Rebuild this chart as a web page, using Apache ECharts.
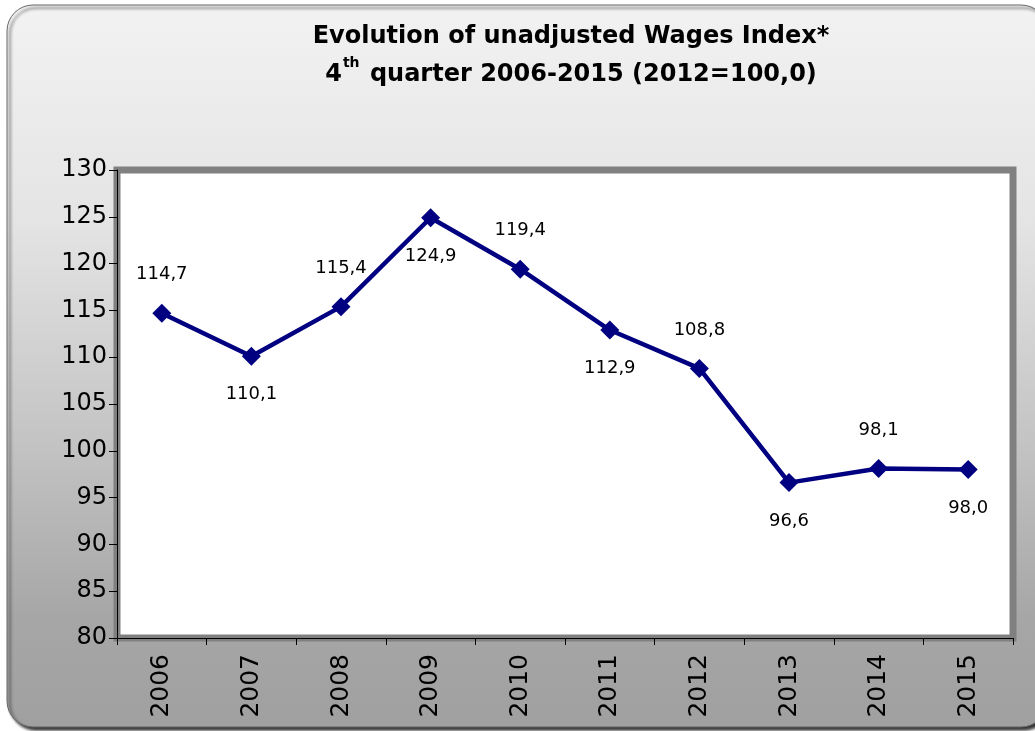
<!DOCTYPE html>
<html>
<head>
<meta charset="utf-8">
<script src="https://cdn.jsdelivr.net/npm/echarts@6/dist/echarts.min.js"></script>
<style>
  html, body { margin: 0; padding: 0; background: #ffffff; }
  #chart { width: 1035px; height: 731px; }
</style>
</head>
<body>
<div id="chart"></div>
<script>
  // data
  const years = ['2006', '2007', '2008', '2009', '2010', '2011', '2012', '2013', '2014', '2015'];
  const wageIndex = [114.7, 110.1, 115.4, 124.9, 119.4, 112.9, 108.8, 96.6, 98.1, 98.0];
  const labelSide = ['top', 'bottom', 'top', 'bottom', 'top', 'bottom', 'top', 'bottom', 'top', 'bottom'];

  const chart = echarts.init(document.getElementById('chart'));
  const font = '"DejaVu Sans", "Liberation Sans", Arial, sans-serif';

  const seriesData = wageIndex.map(function (v, i) {
    return {
      value: v,
      label: {position: labelSide[i]}
    };
  });

  chart.setOption({
    animation: false,
    graphic: [
      {
        type: 'rect',
        z: -10,
        silent: true,
        shape: {x: 7, y: 5, width: 1040, height: 722, r: 26},
        style: {
          fill: new echarts.graphic.LinearGradient(0, 0, 0, 1, [
            {offset: 0, color: '#f2f2f2'},
            {offset: 0.3, color: '#e4e4e4'},
            {offset: 0.6, color: '#c4c4c4'},
            {offset: 0.85, color: '#a6a6a6'},
            {offset: 1, color: '#a0a0a0'}
          ]),
          stroke: '#666666',
          lineWidth: 1,
          shadowColor: 'rgba(0,0,0,0.8)',
          shadowBlur: 3,
          shadowOffsetX: 3,
          shadowOffsetY: 3
        }
      }
    ],
    title: {
      left: 566,
      top: 13,
      textAlign: 'center',
      text: 'Evolution of unadjusted Wages Index*\n{n|4}{sup|th}{n| quarter 2006-2015 (2012=100,0)}',
      textStyle: {
        fontFamily: font,
        fontSize: 24,
        fontWeight: 'bold',
        color: '#000000',
        lineHeight: 38,
        rich: {
          n: {fontFamily: font, fontSize: 24, fontWeight: 'bold', color: '#000', lineHeight: 38},
          sup: {fontFamily: font, fontSize: 14, fontWeight: 'bold', color: '#000', verticalAlign: 'top', padding: [0, 2, 16, 1], lineHeight: 38}
        }
      }
    },
    grid: {
      show: true,
      left: 117,
      right: 22,
      top: 170,
      bottom: 93,
      backgroundColor: '#ffffff',
      borderColor: '#808080',
      borderWidth: 7
    },
    xAxis: {
      type: 'category',
      data: years,
      boundaryGap: true,
      axisLine: {show: true, lineStyle: {color: '#000000', width: 1}},
      axisTick: {show: true, alignWithLabel: false, length: 7, lineStyle: {color: '#000000'}},
      axisLabel: {
        rotate: 90,
        margin: 16,
        fontFamily: font,
        fontSize: 25,
        color: '#000000'
      },
      splitLine: {show: false}
    },
    yAxis: {
      type: 'value',
      min: 80,
      max: 130,
      interval: 5,
      axisLine: {show: true, lineStyle: {color: '#000000', width: 1}},
      axisTick: {show: true, length: 8, lineStyle: {color: '#000000'}},
      axisLabel: {
        margin: 10,
        fontFamily: font,
        fontSize: 24,
        color: '#000000'
      },
      splitLine: {show: false}
    },
    series: [
      {
        type: 'line',
        data: seriesData,
        symbol: 'diamond',
        symbolSize: 19,
        lineStyle: {color: '#000080', width: 4.5},
        itemStyle: {color: '#000080'},
        label: {
          show: true,
          distance: 20,
          fontFamily: font,
          fontSize: 18,
          color: '#000000',
          formatter: function (p) {
            return p.value.toFixed(1).replace('.', ',');
          }
        }
      }
    ]
  });
</script>
</body>
</html>
